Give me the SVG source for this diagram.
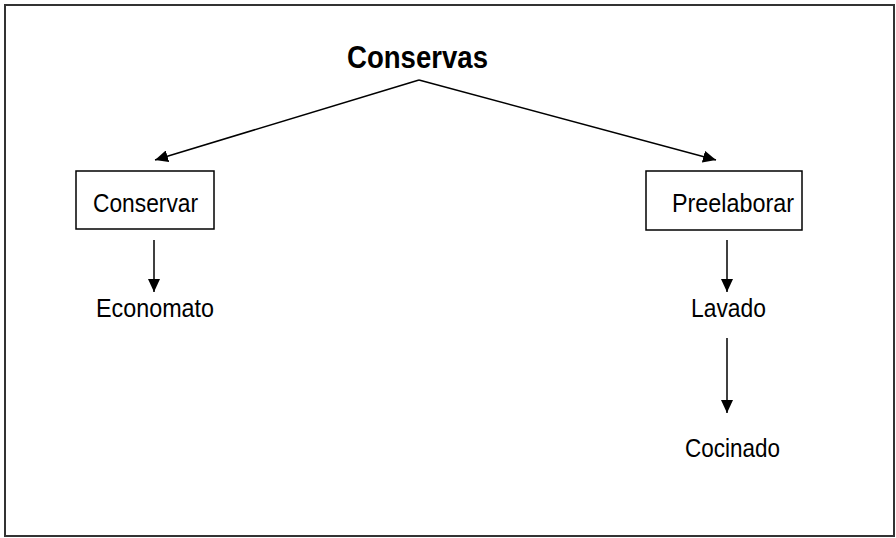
<svg xmlns="http://www.w3.org/2000/svg" width="896" height="538" viewBox="0 0 896 538">
<style>
.lbl{font-family:"Liberation Sans",Arial,sans-serif;font-size:26px;fill:#000;}
.title{font-family:"Liberation Sans",Arial,sans-serif;font-size:32px;font-weight:bold;fill:#000;}
.box{fill:#fff;stroke:#000;stroke-width:1.5;}
.edge{stroke:#000;stroke-width:1.5;fill:none;marker-end:url(#ah);}
</style>
<defs>
<marker id="ah" markerUnits="userSpaceOnUse" markerWidth="14" markerHeight="12" refX="13" refY="6" orient="auto">
<path d="M0,0 L13,6 L0,12 Z" fill="#000"/>
</marker>
</defs>
<rect x="0" y="0" width="896" height="538" fill="#fff"/>
<rect x="5" y="5" width="889" height="531" fill="none" stroke="#333" stroke-width="2"/>
<g id="connectors">
<line class="edge" x1="419" y1="80" x2="155" y2="160"/>
<line class="edge" x1="419" y1="80" x2="716" y2="160"/>
<line class="edge" x1="154" y1="240" x2="154" y2="292"/>
<line class="edge" x1="727" y1="240" x2="727" y2="292"/>
<line class="edge" x1="727" y1="338" x2="727" y2="413"/>
</g>
<g id="conservas">
<text class="title" x="347" y="68" textLength="141" lengthAdjust="spacingAndGlyphs">Conservas</text>
</g>
<g id="conservar">
<rect class="box" x="76" y="171" width="138" height="58"/>
<text class="lbl" x="93" y="212" textLength="105" lengthAdjust="spacingAndGlyphs">Conservar</text>
</g>
<g id="preelaborar">
<rect class="box" x="646" y="171" width="156" height="59"/>
<text class="lbl" x="672" y="212" textLength="122" lengthAdjust="spacingAndGlyphs">Preelaborar</text>
</g>
<g id="economato">
<text class="lbl" x="96" y="317" textLength="118" lengthAdjust="spacingAndGlyphs">Economato</text>
</g>
<g id="lavado">
<text class="lbl" x="691" y="317" textLength="75" lengthAdjust="spacingAndGlyphs">Lavado</text>
</g>
<g id="cocinado">
<text class="lbl" x="685" y="457" textLength="95" lengthAdjust="spacingAndGlyphs">Cocinado</text>
</g>
</svg>
